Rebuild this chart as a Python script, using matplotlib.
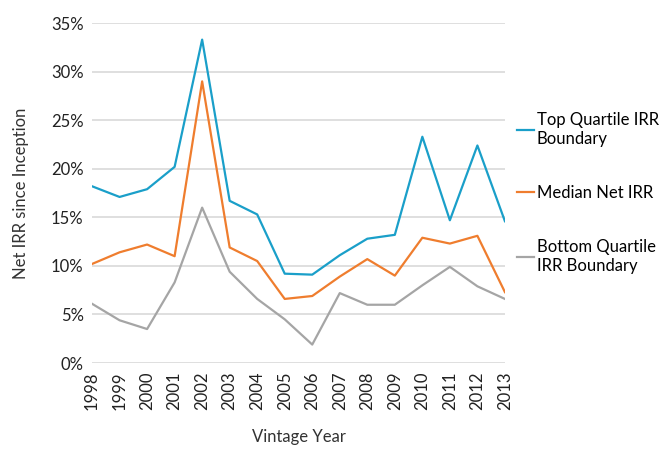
import numpy as np
import matplotlib.pyplot as plt
from matplotlib.ticker import FuncFormatter

# Vintage years and IRR series (percent)
years = ['1998', '1999', '2000', '2001', '2002', '2003', '2004', '2005',
         '2006', '2007', '2008', '2009', '2010', '2011', '2012', '2013']
top_quartile = [18.2, 17.1, 17.9, 20.2, 33.3, 16.7, 15.3, 9.2,
                9.1, 11.1, 12.8, 13.2, 23.3, 14.7, 22.4, 14.6]
median_irr = [10.2, 11.4, 12.2, 11.0, 29.0, 11.9, 10.5, 6.6,
              6.9, 8.9, 10.7, 9.0, 12.9, 12.3, 13.1, 7.3]
bottom_quartile = [6.1, 4.4, 3.5, 8.3, 16.0, 9.4, 6.6, 4.5,
                   1.9, 7.2, 6.0, 6.0, 8.0, 9.9, 7.9, 6.6]

plt.rcParams['font.family'] = ['Lato', 'DejaVu Sans']

fig = plt.figure(figsize=(6.67, 4.49), dpi=100)
ax = fig.add_axes([0.138, 0.1915, 0.619, 0.757])

x = np.arange(len(years))
ax.plot(x, top_quartile, color='#1a9fc9', lw=1.6, label='Top Quartile IRR\nBoundary')
ax.plot(x, median_irr, color='#ef7d2e', lw=1.6, label='Median Net IRR')
ax.plot(x, bottom_quartile, color='#a5a5a5', lw=1.6, label='Bottom Quartile\nIRR Boundary')

ax.set_xlim(0, len(years) - 1)
ax.set_ylim(0, 35)
ax.set_yticks(np.arange(0, 36, 5))
ax.yaxis.set_major_formatter(FuncFormatter(lambda v, p: f'{v:.0f}%'))
ax.set_xticks(x)
ax.set_xticklabels(years, rotation=90)

ax.grid(axis='y', color='#d9d9d9', lw=1.2)
ax.set_axisbelow(True)
for s in ax.spines.values():
    s.set_visible(False)
ax.tick_params(length=0, labelsize=12, colors='#222222', pad=6)

ax.set_ylabel('Net IRR since Inception', fontsize=12, color='#333333', labelpad=16)
ax.set_xlabel('Vintage Year', fontsize=12, color='#333333', labelpad=14)

fig.legend(loc='center left', bbox_to_anchor=(0.775, 0.57), frameon=False,
           fontsize=12, handlelength=1.0, handletextpad=0.2, labelspacing=2.3,
           borderpad=0, borderaxespad=0)

fig.savefig('out.png', dpi=100)
